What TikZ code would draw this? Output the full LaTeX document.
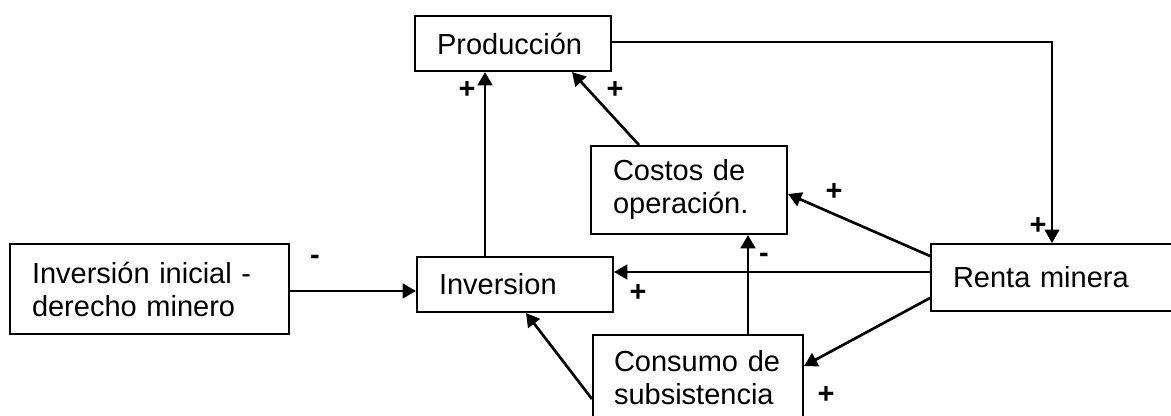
\documentclass[tikz,border=0pt]{standalone}
\usepackage{fontspec}
\setmainfont{Liberation Sans}
\usetikzlibrary{arrows.meta,calc}
\tikzset{
  box/.style={draw, line width=1.5pt, inner xsep=0pt, inner ysep=0pt, align=left, anchor=center},
  arr/.style={line width=2pt, -{Triangle[length=10pt,width=11pt]}},
  sign/.style={inner sep=0pt, anchor=center, font=\fontsize{21.75pt}{24.75pt}\selectfont\bfseries}
}
\begin{document}
\begin{tikzpicture}[x=0.75pt, y=-0.75pt, font=\fontsize{21.75pt}{24.75pt}\selectfont]
\useasboundingbox (0,0) rectangle (1171,416);
% boxes
\node[box, minimum width=147pt, minimum height=41.25pt, text width=114pt] (prod) at (513,43.5) {Producción};
\node[box, minimum width=147pt, minimum height=66pt, text width=114pt] (cost) at (689,190) {Costos de\\operación.};
\node[box, minimum width=209.25pt, minimum height=67.5pt, text width=176.25pt] (inic) at (149.5,289) {Inversión inicial -\\derecho minero};
\node[box, minimum width=147pt, minimum height=41.25pt, text width=114pt] (inv) at (515,284.5) {Inversion};
\node[box, minimum width=194.25pt, minimum height=50.25pt, text width=161.25pt] (ren) at (1060.5,277.5) {Renta minera};
\node[box, minimum width=157.5pt, minimum height=64.5pt, text width=126pt] (cons) at (698,378) {Consumo de\\subsistencia};
% connector points
\coordinate (invtop) at ($(inv.north west)+(69,0)$);
\coordinate (costtop) at ($(cost.north west)+(49,0)$);
\coordinate (prodin) at ($(prod.south west)+(158,0)$);
\coordinate (rentop) at ($(ren.north west)+(122,0)$);
\coordinate (renA) at ($(ren.north west)+(0,13)$);
\coordinate (renB) at ($(ren.north west)+(0,29)$);
\coordinate (renC) at ($(ren.north west)+(0,55)$);
\coordinate (costR) at ($(cost.north east)+(0,49)$);
\coordinate (consR) at ($(cons.north east)+(0,32)$);
\coordinate (constop) at ($(cons.north west)+(156,0)$);
\coordinate (consL) at ($(cons.north west)+(0,65)$);
\coordinate (invbot) at ($(inv.south west)+(110,0)$);
\coordinate (inicR) at ($(inic.east)+(0,2)$);
% connectors
\draw[line width=1.5pt, -{Triangle[length=10pt,width=11pt]}] (prod.east |- 0,42) -| (rentop);
\draw[arr] (invtop) -- (invtop |- prod.south);
\draw[arr] (costtop) -- (prodin);
\draw[arr] (inicR) -- (inicR -| inv.west);
\draw[arr] (renB) -- (renB -| inv.east);
\draw[arr] (renA) -- (costR);
\draw[arr] (renC) -- (consR);
\draw[arr] (constop) -- (constop |- cost.south);
\draw[arr] (consL) -- (invbot);
% signs
\node[sign] (s1) at (467,90) {+};
\node[sign] (s2) at (615,90) {+};
\node[sign] (s3) at (834,192) {+};
\node[sign] (s4) at (1038,226) {+};
\node[sign] (s5) at (315,260) {-};
\node[sign] (s6) at (638,293) {+};
\node[sign] (s7) at (764,258) {-};
\node[sign] (s8) at (826,395) {+};
\end{tikzpicture}
\end{document}
